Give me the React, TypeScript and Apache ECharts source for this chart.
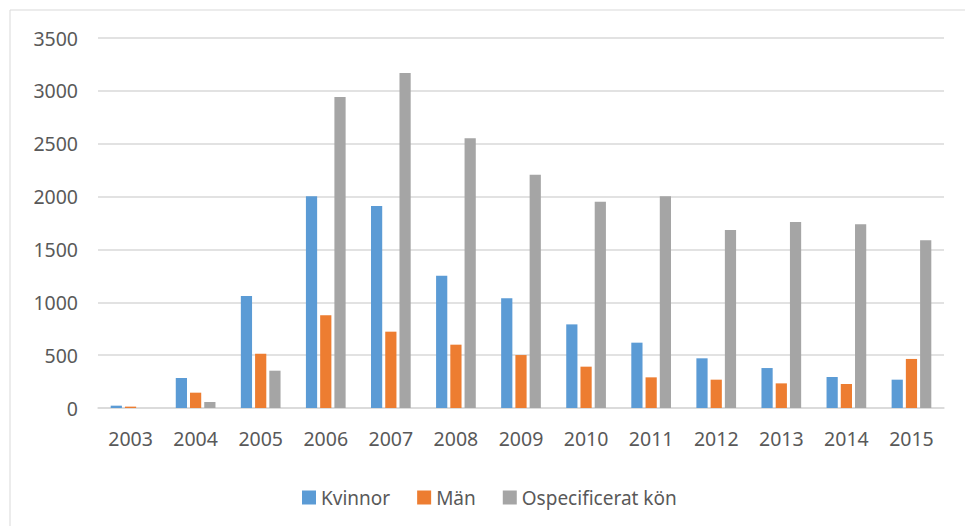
import React, { useEffect, useRef } from "react";
import * as echarts from "echarts";

const years = ["2003", "2004", "2005", "2006", "2007", "2008", "2009", "2010", "2011", "2012", "2013", "2014", "2015"];
const kvinnor = [22, 284, 1060, 2002, 1911, 1252, 1037, 791, 618, 470, 378, 293, 268];
const man = [13, 145, 514, 877, 722, 599, 501, 391, 290, 268, 233, 227, 464];
const ospecificerat = [0, 57, 353, 2942, 3169, 2551, 2207, 1952, 2002, 1684, 1760, 1738, 1586];
const seriesNames = ["Kvinnor", "Män", "Ospecificerat kön"];
const colors = ["#5B9BD5", "#ED7D31", "#A5A5A5"];

export default function App() {
  const ref = useRef<HTMLDivElement>(null);
  useEffect(() => {
    if (!ref.current) return;
    const chart = echarts.init(ref.current, null, { renderer: "svg" });
    const font = "'Noto Sans', 'Open Sans', sans-serif";
    const data = [kvinnor, man, ospecificerat];
    chart.setOption({
      animation: false,
      backgroundColor: "#ffffff",
      textStyle: { fontFamily: font },
      graphic: [
        { type: "line", shape: { x1: 10, y1: 10, x2: 965, y2: 10 }, style: { stroke: "#D9D9D9", lineWidth: 1 } },
        { type: "line", shape: { x1: 10, y1: 10, x2: 10, y2: 526 }, style: { stroke: "#D9D9D9", lineWidth: 1 } },
      ],
      grid: { left: 98, right: 21, top: 38, bottom: 118, containLabel: false },
      legend: {
        left: 297,
        top: 483,
        itemWidth: 14,
        itemHeight: 14,
        itemGap: 27,
        icon: "rect",
        textStyle: { fontSize: 19, color: "#595959", fontFamily: font },
        data: seriesNames,
      },
      xAxis: {
        type: "category",
        data: years,
        axisLine: { lineStyle: { color: "#D9D9D9", width: 1.5 } },
        axisTick: { show: false },
        axisLabel: { fontSize: 19.5, color: "#595959", margin: 20, fontFamily: font },
      },
      yAxis: {
        type: "value",
        min: 0,
        max: 3500,
        interval: 500,
        axisLine: { show: false },
        axisTick: { show: false },
        axisLabel: {
          fontSize: 19.5,
          color: "#595959",
          margin: 20,
          fontFamily: font,
          formatter: (v: number) => String(v),
        },
        splitLine: { lineStyle: { color: "#D9D9D9", width: 1.5 } },
      },
      series: seriesNames.map((name, i) => ({
        name,
        type: "bar",
        data: data[i],
        itemStyle: { color: colors[i] },
        barGap: "27%",
        barCategoryGap: "39%",
      })),
    });
    return () => chart.dispose();
  }, []);
  return <div ref={ref} style={{ width: 965, height: 526, position: "absolute", left: 0, top: 0 }} />;
}
